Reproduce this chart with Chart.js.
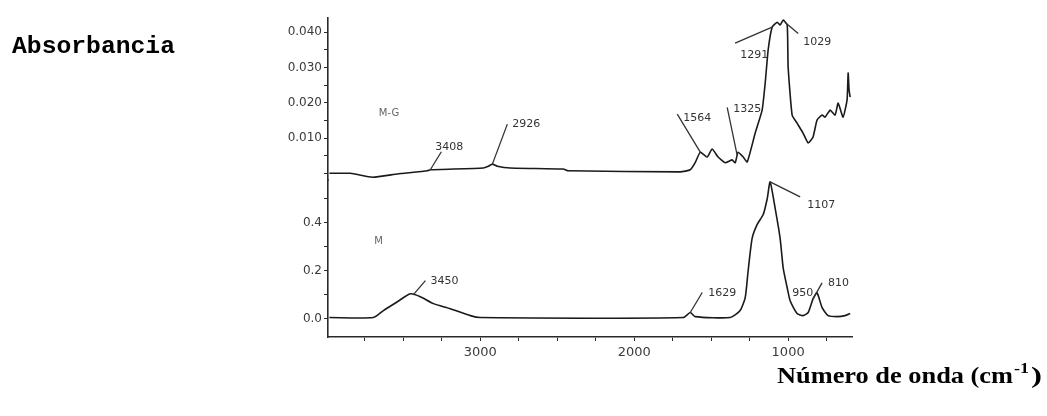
<!DOCTYPE html>
<html>
<head>
<meta charset="utf-8">
<script src="https://cdn.jsdelivr.net/npm/chart.js@4.4.1/dist/chart.umd.min.js"></script>
<style>
  html, body { margin: 0; padding: 0; background: #fff; }
  #wrap { position: relative; width: 1047px; height: 416px; }
</style>
</head>
<body>
<div id="wrap"><canvas id="ftir" width="1047" height="416"></canvas></div>
<script>
// spectrum M-G (upper panel)
const mgWave = [3981, 3844, 3701, 3539, 3344, 3325, 2981, 2948, 2922, 2890, 2805, 2461, 2429,
  1701, 1636, 1604, 1571, 1526, 1494, 1455, 1409, 1364, 1344, 1325, 1292, 1266,
  1214, 1169, 1149, 1130, 1104, 1071, 1052, 1032, 1006, 1000,
  974, 942, 903, 870, 838, 812, 779, 760, 727, 695, 675, 643, 617, 610, 604, 597];
const mgAbs = [0.0000, 0.0000, -0.0011, -0.0002, 0.0007, 0.0010, 0.0015, 0.0020, 0.0026, 0.0020, 0.0015, 0.0012, 0.0007,
  0.0004, 0.0010, 0.0030, 0.0060, 0.0046, 0.0069, 0.0046, 0.0030, 0.0038, 0.0030, 0.0060, 0.0046, 0.0032,
  0.0114, 0.0179, 0.0256, 0.0349, 0.0414, 0.0428, 0.0420, 0.0434, 0.0420, 0.0301,
  0.0165, 0.0142, 0.0114, 0.0086, 0.0103, 0.0151, 0.0165, 0.0159, 0.0179, 0.0165, 0.0199, 0.0159, 0.0208, 0.0284, 0.0236, 0.0216];

// spectrum M (lower panel)
const mWave = [3981, 3695, 3630, 3539, 3455, 3390, 3305, 3195, 3065, 3000,
  1682, 1636, 1604, 1377, 1312, 1279, 1260, 1234, 1201, 1162,
  1136, 1117, 1084, 1052, 1032, 1006, 987, 942, 903, 870,
  838, 812, 779, 740, 682, 630, 597];
const mAbs = [0.004, 0.004, 0.033, 0.070, 0.103, 0.091, 0.062, 0.041, 0.012, 0.004,
  0.004, 0.025, 0.008, 0.004, 0.033, 0.087, 0.198, 0.334, 0.392, 0.433,
  0.499, 0.569, 0.458, 0.334, 0.210, 0.128, 0.074, 0.021, 0.012, 0.025,
  0.082, 0.107, 0.045, 0.012, 0.008, 0.012, 0.021];

// peak labels
const mgPeakLabels = ['3408', '2926', '1564', '1325', '1291', '1029'];
const mgPeakWave = [3325, 2922, 1571, 1331, 1104, 1019];
const mPeakLabels = ['3450', '1629', '1107', '950', '810'];
const mPeakWave = [3435, 1636, 1117, 987, 838];

// ticks
const waveTicks = [750, 1000, 1250, 1500, 1750, 2000, 2250, 2500, 2750, 3000, 3250, 3500, 3750];
const waveTickLabels = [1000, 2000, 3000];
const topTicks = [0, 0.005, 0.010, 0.015, 0.020, 0.025, 0.030, 0.035, 0.040];
const topTickLabels = [0.010, 0.020, 0.030, 0.040];
const botTicks = [0, 0.1, 0.2, 0.3, 0.4, 0.5];
const botTickLabels = [0.0, 0.2, 0.4];

const sampleNames = ['M-G', 'M'];

// leader line end [dx, dy] from the peak, then label offset [dx, dy] from the leader end
const leaderStyle = {
  '3408': [11, -18, -6, -5], '2926': [15, -40, 5, 0], '1564': [-23, -38, 6, 4],
  '1325': [-10, -48, 6, 2], '1291': [-37, 16, 5, 12], '1029': [13, 11, 5, 9],
  '3450': [12, -14, 5, 0], '1629': [12, -20, 6, 1], '1107': [30, 15, 7, 8],
  '950': [0, 0, 2, -8], '810': [9, -16, 6, 0]
};

const AXIS_COLOR = '#2a2a2a';
const LABEL_COLOR = '#3a3a3a';
const SANS = '"DejaVu Sans", Verdana, sans-serif';

function toPoints(xs, ys) {
  return xs.map((x, i) => ({ x: x, y: ys[i] }));
}

function interp(xs, ys, w) {
  for (let i = 0; i < xs.length - 1; i++) {
    const a = xs[i], b = xs[i + 1];
    if ((w <= a && w >= b) || (w >= a && w <= b)) {
      const t = (w - a) / (b - a || 1);
      return ys[i] + t * (ys[i + 1] - ys[i]);
    }
  }
  return ys[ys.length - 1];
}

function near(list, v, eps) {
  return list.some(t => Math.abs(t - v) < eps);
}

function drawStretched(ctx, text, x, y, font, targetW) {
  ctx.save();
  ctx.font = font;
  const w = ctx.measureText(text).width;
  ctx.translate(x, y);
  ctx.scale(targetW / w, 1);
  ctx.fillText(text, 0, 0);
  ctx.restore();
}

const annotations = {
  id: 'annotations',
  afterDatasetsDraw(chart) {
    const ctx = chart.ctx;
    const xs = chart.scales.x;
    const groups = [
      { scale: chart.scales.yTop, labels: mgPeakLabels, waves: mgPeakWave, sx: mgWave, sy: mgAbs },
      { scale: chart.scales.yBot, labels: mPeakLabels, waves: mPeakWave, sx: mWave, sy: mAbs }
    ];
    ctx.save();
    ctx.strokeStyle = '#333';
    ctx.lineWidth = 1.3;
    ctx.fillStyle = '#333';
    ctx.textBaseline = 'middle';
    ctx.textAlign = 'left';
    ctx.font = '11px ' + SANS;
    groups.forEach(g => {
      g.labels.forEach((lab, i) => {
        const w = g.waves[i];
        const px = xs.getPixelForValue(w);
        const py = g.scale.getPixelForValue(interp(g.sx, g.sy, w));
        const s = leaderStyle[lab];
        const ex = px + s[0], ey = py + s[1];
        if (s[0] || s[1]) {
          ctx.beginPath();
          ctx.moveTo(px, py);
          ctx.lineTo(ex, ey);
          ctx.stroke();
        }
        ctx.fillText(lab, ex + s[2], ey + s[3]);
      });
    });

    // sample names
    ctx.fillStyle = '#666';
    ctx.font = '10px ' + SANS;
    ctx.fillText(sampleNames[0], xs.getPixelForValue(3660), chart.scales.yTop.getPixelForValue(0.0171));
    ctx.fillText(sampleNames[1], xs.getPixelForValue(3690), chart.scales.yBot.getPixelForValue(0.32));

    // titles
    ctx.fillStyle = '#000';
    ctx.textBaseline = 'alphabetic';
    drawStretched(ctx, 'Absorbancia', 12, 53, 'bold 23px "Liberation Mono", "Courier New", monospace', 163);
    const serif = '"Liberation Serif", "Times New Roman", serif';
    drawStretched(ctx, 'Número de onda (cm', 777, 383, 'bold 23px ' + serif, 236);
    drawStretched(ctx, '-1', 1014, 373, 'bold 14px ' + serif, 15);
    drawStretched(ctx, ')', 1031, 383, 'bold 23px ' + serif, 11);
    ctx.restore();
  }
};

const tickFont = { family: SANS, size: 12 };

new Chart(document.getElementById('ftir'), {
  type: 'line',
  data: {
    datasets: [
      {
        label: 'M-G',
        data: toPoints(mgWave, mgAbs),
        yAxisID: 'yTop',
        borderColor: '#1a1a1a',
        borderWidth: 1.6,
        pointRadius: 0,
        tension: 0.15,
        fill: false
      },
      {
        label: 'M',
        data: toPoints(mWave, mAbs),
        yAxisID: 'yBot',
        borderColor: '#1a1a1a',
        borderWidth: 1.6,
        pointRadius: 0,
        tension: 0.2,
        fill: false
      }
    ]
  },
  options: {
    responsive: false,
    animation: false,
    devicePixelRatio: 1,
    layout: { padding: { left: 0, right: 195, top: 18, bottom: 0 } },
    plugins: { legend: { display: false }, tooltip: { enabled: false } },
    elements: { line: { borderJoinStyle: 'round' } },
    scales: {
      x: {
        type: 'linear',
        reverse: true,
        min: 585,
        max: 3990,
        afterBuildTicks: s => { s.ticks = waveTicks.map(v => ({ value: v })); },
        afterFit: s => { s.height = 79; },
        grid: { drawOnChartArea: false, tickLength: 4, color: AXIS_COLOR },
        border: { color: AXIS_COLOR, width: 1.6 },
        ticks: {
          color: LABEL_COLOR,
          font: { family: SANS, size: 13 },
          padding: 4,
          maxRotation: 0,
          autoSkip: false,
          callback: v => near(waveTickLabels, v, 1) ? String(v) : ''
        }
      },
      // stacked scales are laid out bottom-up in the order listed
      yBot: {
        type: 'linear',
        position: 'left',
        stack: 'abs',
        stackWeight: 157,
        min: -0.077,
        max: 0.577,
        afterBuildTicks: s => { s.ticks = botTicks.map(v => ({ value: v })); },
        afterFit: s => { s.width = 328; },
        grid: { drawOnChartArea: false, tickLength: 4, color: AXIS_COLOR },
        border: { color: AXIS_COLOR, width: 1.6 },
        ticks: {
          color: LABEL_COLOR,
          font: tickFont,
          padding: 2,
          autoSkip: false,
          callback: v => near(botTickLabels, v, 0.001) ? v.toFixed(1) : ''
        }
      },
      yTop: {
        type: 'linear',
        position: 'left',
        stack: 'abs',
        stackWeight: 162,
        min: -0.0019,
        max: 0.044,
        afterBuildTicks: s => { s.ticks = topTicks.map(v => ({ value: v })); },
        afterFit: s => { s.width = 328; },
        grid: { drawOnChartArea: false, tickLength: 4, color: AXIS_COLOR },
        border: { color: AXIS_COLOR, width: 1.6 },
        ticks: {
          color: LABEL_COLOR,
          font: tickFont,
          padding: 2,
          autoSkip: false,
          callback: v => near(topTickLabels, v, 0.0001) ? v.toFixed(3) : ''
        }
      }
    }
  },
  plugins: [annotations]
});
</script>
</body>
</html>
